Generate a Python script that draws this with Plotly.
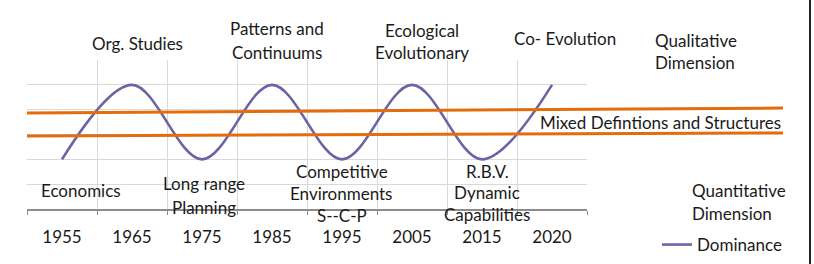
import plotly.graph_objects as go

# ---- data ----
years = ["1955", "1965", "1975", "1985", "1995", "2005", "2015", "2020"]
dominance = [2, 5, 2, 5, 2, 5, 2, 5]
series_name = "Dominance"

top_labels = [
    ("Org. Studies",),
    ("Patterns and", "Continuums"),
    ("Ecological", "Evolutionary"),
    ("Co- Evolution",),
]
bottom_labels = [
    ("Economics",),
    ("Long range", "Planning"),
    ("Competitive", "Environments", "S--C-P"),
    ("R.B.V.", "Dynamic", "Capabilities"),
]
band_label = "Mixed Defintions and Structures"
qual_label = ("Qualitative", "Dimension")
quant_label = ("Quantitative", "Dimension")

# ---- layout helpers (pixel -> paper) ----
W, H = 814, 264
L, R, T, B = 27, 587, 60, 209
def px(x):
    return (x - L) / (R - L)
def py(y):
    return (B - y) / (B - T)

FONT = "Lato"
FS = 17
TXT = "#1a1a1a"
PURPLE = "#6b64a4"
ORANGE = "#e46c0a"

fig = go.Figure()
fig.add_trace(go.Scatter(
    x=years, y=dominance, mode="lines", name=series_name,
    line=dict(color=PURPLE, width=2.6, shape="spline", smoothing=1.0),
    showlegend=True,
))

annotations = []
def add_text(text, x, y, anchor="center"):
    annotations.append(dict(
        text=text, x=px(x), y=py(y), xref="paper", yref="paper",
        xanchor=anchor, yanchor="middle", showarrow=False,
        font=dict(family=FONT, size=FS, color=TXT),
    ))

# top labels
add_text(top_labels[0][0], 137, 44)
add_text(top_labels[1][0], 277, 29)
add_text(top_labels[1][1], 277, 52)
add_text(top_labels[2][0], 422, 30)
add_text(top_labels[2][1], 422, 52)
add_text(top_labels[3][0], 565, 38)
add_text(qual_label[0], 653, 40, "left")
add_text(qual_label[1], 653, 63, "left")
add_text(band_label, 660, 122)
# bottom labels
add_text(bottom_labels[0][0], 81, 190)
add_text(bottom_labels[1][0], 204, 183)
add_text(bottom_labels[1][1], 204, 207)
add_text(bottom_labels[2][0], 342, 171)
add_text(bottom_labels[2][1], 341, 193)
add_text(bottom_labels[2][2], 342, 215)
add_text(bottom_labels[3][0], 487, 171)
add_text(bottom_labels[3][1], 487, 192)
add_text(bottom_labels[3][2], 487, 214)
add_text(quant_label[0], 690, 190, "left")
add_text(quant_label[1], 690, 213, "left")

shapes = [
    # orange band lines (drawn across and beyond the plot)
    dict(type="line", xref="paper", yref="paper",
         x0=px(27), y0=py(113), x1=px(783), y1=py(108),
         line=dict(color=ORANGE, width=3)),
    dict(type="line", xref="paper", yref="paper",
         x0=px(27), y0=py(136), x1=px(783), y1=py(133),
         line=dict(color=ORANGE, width=3)),
    # right border
    dict(type="line", xref="paper", yref="paper",
         x0=px(810), y0=py(-5), x1=px(810), y1=py(270),
         line=dict(color="#222222", width=2)),
]

fig.update_layout(
    width=W, height=H,
    margin=dict(l=L, r=W - R, t=T, b=H - B, autoexpand=False),
    paper_bgcolor="white", plot_bgcolor="white",
    font=dict(family=FONT, size=FS, color=TXT),
    annotations=annotations,
    shapes=shapes,
    legend=dict(x=px(657), y=py(245), xanchor="left", yanchor="middle",
                bgcolor="rgba(0,0,0,0)", font=dict(family=FONT, size=FS, color=TXT)),
    xaxis=dict(
        type="category", range=[-0.5, len(years) - 0.5],
        tickson="boundaries", ticks="outside", ticklen=4, tickcolor="#8c8c8c",
        showgrid=True, gridcolor="#d9d9d9", gridwidth=1,
        showline=True, linecolor="#8c8c8c", linewidth=1.5,
        tickfont=dict(family=FONT, size=FS, color=TXT),
        ticklabelstandoff=12, automargin=False,
        fixedrange=True,
    ),
    yaxis=dict(
        range=[0, 6], dtick=1, showticklabels=False,
        showgrid=True, gridcolor="#d9d9d9", gridwidth=1,
        zeroline=False, showline=False, fixedrange=True, automargin=False,
    ),
)

fig.write_html("out.html")
